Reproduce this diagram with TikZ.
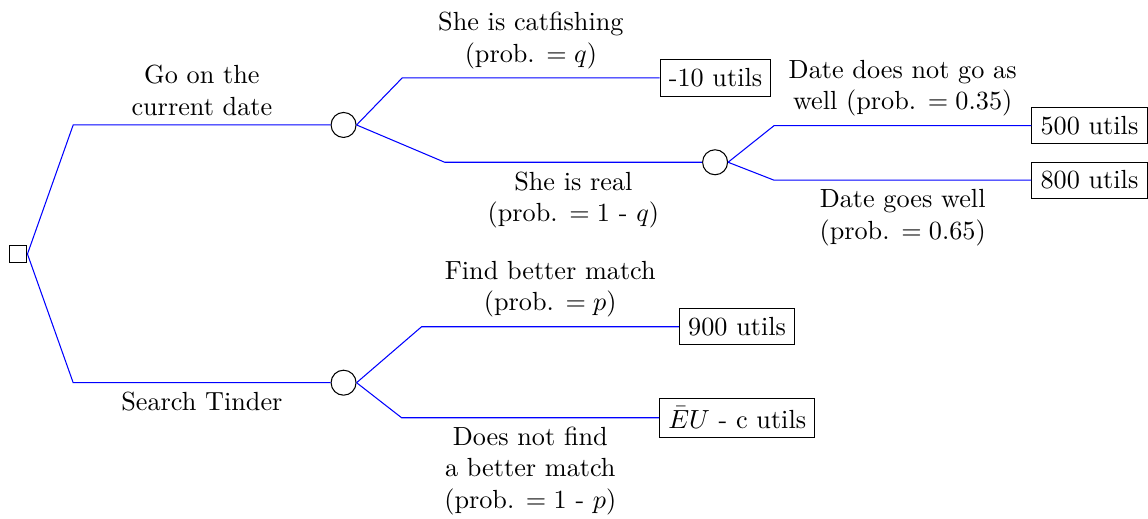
\documentclass[tikz,border=0pt]{standalone}
\usepackage{amsmath, amssymb}
\usepackage{tikz}
\usetikzlibrary{positioning}

\begin{document}
\begin{tikzpicture}[node distance=1.0cm]
    \tikzstyle{choice}=[draw, rectangle, minimum size=0.24cm, inner sep=0pt]
    \tikzstyle{chance}=[draw, circle, minimum size=0.335cm, inner sep=0pt]
    \tikzstyle{payoff}=[draw, rectangle]
    \tikzstyle{branch}=[blue]
    \tikzstyle{lbl}=[align=center, text=black]
    \useasboundingbox (-0.241,-3.539) rectangle (15.148,3.405);

    % decision and the two first branches
    \node[choice] (start) at (0,0) {};
    \coordinate (goC) at (0.74,1.73);
    \coordinate (tinderC) at (0.74,-1.725);
    \node[chance, right=3.45cm of goC] (date) {};
    \node[chance, right=3.45cm of tinderC] (tinder) {};
    \draw[branch] (start.east) -- (goC) -- node[lbl, above] {Go on the\\current date} (date);
    \draw[branch] (start.east) -- (tinderC) -- node[lbl, below] {Search Tinder} (tinder);

    % going on the date
    \coordinate (catC) at (5.15,2.36);
    \coordinate (realC) at (5.72,1.23);
    \node[payoff, right=3.45cm of catC] (fake) {-10 utils};
    \node[chance, right=3.45cm of realC] (real) {};
    \draw[branch] (date.east) -- (catC) -- node[lbl, above] {She is catfishing\\(prob. $= q$)} (fake);
    \draw[branch] (date.east) -- (realC) -- node[lbl, below] {She is real\\(prob. $= 1$ - $q$)} (real);

    \coordinate (badC) at (10.134,1.72);
    \coordinate (goodC) at (10.134,0.99);
    \node[payoff, right=3.45cm of badC] (bad) {500 utils};
    \node[payoff, right=3.45cm of goodC] (good) {800 utils};
    \draw[branch] (real.east) -- (badC) -- node[lbl, above] {Date does not go as\\well (prob. $= 0.35$)} (bad);
    \draw[branch] (real.east) -- (goodC) -- node[lbl, below] {Date goes well\\(prob. $= 0.65$)} (good);

    % searching tinder
    \coordinate (betterC) at (5.41,-0.975);
    \coordinate (worseC) at (5.143,-2.195);
    \node[payoff, right=3.45cm of betterC] (better) {900 utils};
    \node[payoff, right=3.45cm of worseC] (worse) {$\bar{E}U$ - c utils};
    \draw[branch] (tinder.east) -- (betterC) -- node[lbl, above] {Find better match\\(prob. $= p$)} (better);
    \draw[branch] (tinder.east) -- (worseC) -- node[lbl, below] {Does not find\\a better match\\(prob. $= 1$ - $p$)} (worse);
  \end{tikzpicture}
\end{document}
